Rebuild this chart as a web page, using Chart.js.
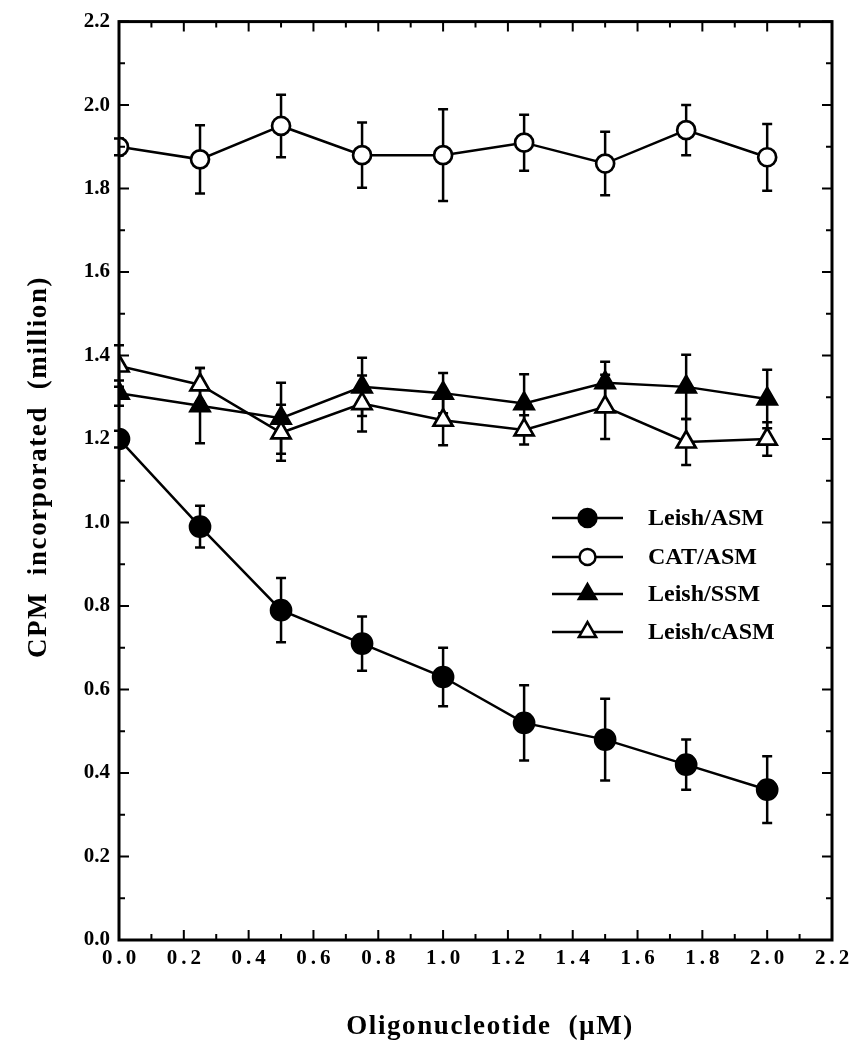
<!DOCTYPE html>
<html>
<head>
<meta charset="utf-8">
<script src="https://cdn.jsdelivr.net/npm/chart.js@4.4.0/dist/chart.umd.min.js"></script>
<style>
  html, body { margin: 0; padding: 0; background: #fff; }
  #wrap { width: 862px; height: 1050px; }
</style>
</head>
<body>
<div id="wrap"><canvas id="cpmChart" width="862" height="1050"></canvas></div>
<script>
// oligonucleotide concentration (uM)
const doses = [0, 0.25, 0.5, 0.75, 1.0, 1.25, 1.5, 1.75, 2.0];

const seriesNames = ['Leish/ASM', 'CAT/ASM', 'Leish/SSM', 'Leish/cASM'];

// CPM incorporated (million) and error bars
const leishAsm = [1.20, 0.99, 0.79, 0.71, 0.63, 0.52, 0.48, 0.42, 0.36];
const leishAsmErr = [0.02, 0.05, 0.077, 0.065, 0.07, 0.09, 0.098, 0.06, 0.08];
const catAsm = [1.90, 1.87, 1.95, 1.88, 1.88, 1.91, 1.86, 1.94, 1.875];
const catAsmErr = [0.02, 0.082, 0.075, 0.078, 0.11, 0.067, 0.076, 0.06, 0.08];
const leishSsm = [1.31, 1.28, 1.25, 1.325, 1.31, 1.285, 1.335, 1.325, 1.296];
const leishSsmErr = [0.03, 0.09, 0.085, 0.07, 0.048, 0.07, 0.05, 0.077, 0.07];
const leishCasm = [1.375, 1.33, 1.215, 1.285, 1.245, 1.222, 1.277, 1.193, 1.20];
const leishCasmErr = [0.05, 0.04, 0.067, 0.067, 0.06, 0.035, 0.077, 0.055, 0.04];

const xTickValues = [0, 0.2, 0.4, 0.6, 0.8, 1.0, 1.2, 1.4, 1.6, 1.8, 2.0, 2.2];

const xTitle = 'Oligonucleotide  (\u00b5M)';
const yTitle = 'CPM  incorporated  (million)';

const serif = '"Liberation Serif", "Times New Roman", serif';

function pts(ys) {
    return doses.map((d, i) => ({ x: d, y: ys[i] }));
}

const styles = [
    { pointStyle: 'circle', radius: 10, fill: '#000', err: leishAsmErr, data: leishAsm },
    { pointStyle: 'circle', radius: 9, fill: '#fff', err: catAsmErr, data: catAsm },
    { pointStyle: 'triangle', radius: 11, fill: '#000', err: leishSsmErr, data: leishSsm },
    { pointStyle: 'triangle', radius: 11, fill: '#fff', err: leishCasmErr, data: leishCasm }
];

const datasets = styles.map((s, i) => ({
    label: seriesNames[i],
    data: pts(s.data),
    errors: s.err,
    borderColor: '#000',
    borderWidth: 2.5,
    pointStyle: s.pointStyle,
    pointRadius: s.radius,
    pointBackgroundColor: s.fill,
    pointBorderColor: '#000',
    pointBorderWidth: 2.7,
    tension: 0
}));

// error bars, frame, inward ticks, x labels, titles and legend
const decorations = {
    id: 'decorations',
    beforeDatasetsDraw(chart) {
        const ctx = chart.ctx;
        const xs = chart.scales.x, ys = chart.scales.y;
        ctx.save();
        ctx.strokeStyle = '#000';
        ctx.lineWidth = 2.5;
        chart.data.datasets.forEach(ds => {
            ds.data.forEach((p, i) => {
                const e = ds.errors[i];
                const px = xs.getPixelForValue(p.x);
                const top = ys.getPixelForValue(p.y + e);
                const bot = ys.getPixelForValue(p.y - e);
                ctx.beginPath();
                ctx.moveTo(px, top); ctx.lineTo(px, bot);
                ctx.moveTo(px - 5, top); ctx.lineTo(px + 5, top);
                ctx.moveTo(px - 5, bot); ctx.lineTo(px + 5, bot);
                ctx.stroke();
            });
        });
        ctx.restore();
    },
    afterDraw(chart) {
        const ctx = chart.ctx;
        const a = chart.chartArea;
        const xs = chart.scales.x, ys = chart.scales.y;
        ctx.save();
        ctx.strokeStyle = '#000';
        ctx.lineWidth = 3;
        ctx.strokeRect(a.left, a.top, a.right - a.left, a.bottom - a.top);

        ctx.lineWidth = 2;
        ctx.beginPath();
        for (let k = 0; k <= 22; k++) {
            const v = k / 10;
            const len = k % 2 === 0 ? 10 : 6;
            const px = xs.getPixelForValue(v);
            ctx.moveTo(px, a.bottom); ctx.lineTo(px, a.bottom - len);
            ctx.moveTo(px, a.top); ctx.lineTo(px, a.top + len);
            const py = ys.getPixelForValue(v);
            ctx.moveTo(a.left, py); ctx.lineTo(a.left + len, py);
            ctx.moveTo(a.right, py); ctx.lineTo(a.right - len, py);
        }
        ctx.stroke();

        // x tick labels (spaced out like the original)
        ctx.fillStyle = '#000';
        ctx.font = 'bold 21px ' + serif;
        ctx.textAlign = 'center';
        ctx.textBaseline = 'middle';
        ctx.letterSpacing = '4px';
        xTickValues.forEach(v => {
            ctx.fillText(v.toFixed(1), xs.getPixelForValue(v) + 2, a.bottom + 19);
        });

        // axis titles
        ctx.font = 'bold 27px ' + serif;
        ctx.letterSpacing = '1.6px';
        ctx.textBaseline = 'alphabetic';
        ctx.fillText(xTitle, 490, 1034);
        ctx.save();
        ctx.translate(46, 467);
        ctx.rotate(-Math.PI / 2);
        ctx.fillText(yTitle, 0, 0);
        ctx.restore();
        ctx.letterSpacing = '0px';

        // legend
        const lx0 = 552, lx1 = 623, tx = 648;
        const rows = [518, 557, 594, 632];
        ctx.font = 'bold 24px ' + serif;
        ctx.textAlign = 'left';
        ctx.textBaseline = 'middle';
        styles.forEach((s, i) => {
            const y = rows[i];
            ctx.lineWidth = 2.5;
            ctx.beginPath();
            ctx.moveTo(lx0, y); ctx.lineTo(lx1, y);
            ctx.stroke();
            ctx.fillStyle = s.fill;
            Chart.helpers.drawPoint(ctx, {
                pointStyle: s.pointStyle, radius: s.radius - 1, rotation: 0, borderWidth: 2.5
            }, (lx0 + lx1) / 2, y);
            ctx.fillStyle = '#000';
            ctx.fillText(seriesNames[i], tx, y + 1);
        });
        ctx.restore();
    }
};

new Chart(document.getElementById('cpmChart').getContext('2d'), {
    type: 'line',
    data: { datasets: datasets },
    options: {
        responsive: false,
        animation: false,
        layout: { padding: { top: 18, right: 30, left: 0, bottom: 0 } },
        plugins: { legend: { display: false }, tooltip: { enabled: false } },
        scales: {
            x: {
                type: 'linear',
                min: 0,
                max: 2.2,
                grid: { display: false, drawTicks: false },
                border: { display: false },
                ticks: { display: false, stepSize: 0.2 },
                afterFit(scale) { scale.height = 110; }
            },
            y: {
                min: 0,
                max: 2.2,
                grid: { display: false, drawTicks: false },
                border: { display: false },
                ticks: {
                    stepSize: 0.2,
                    color: '#000',
                    padding: 9,
                    font: { family: serif, size: 21, weight: 'bold' },
                    callback: v => v.toFixed(1)
                },
                afterFit(scale) { scale.width = 119; }
            }
        }
    },
    plugins: [decorations]
});
</script>
</body>
</html>
